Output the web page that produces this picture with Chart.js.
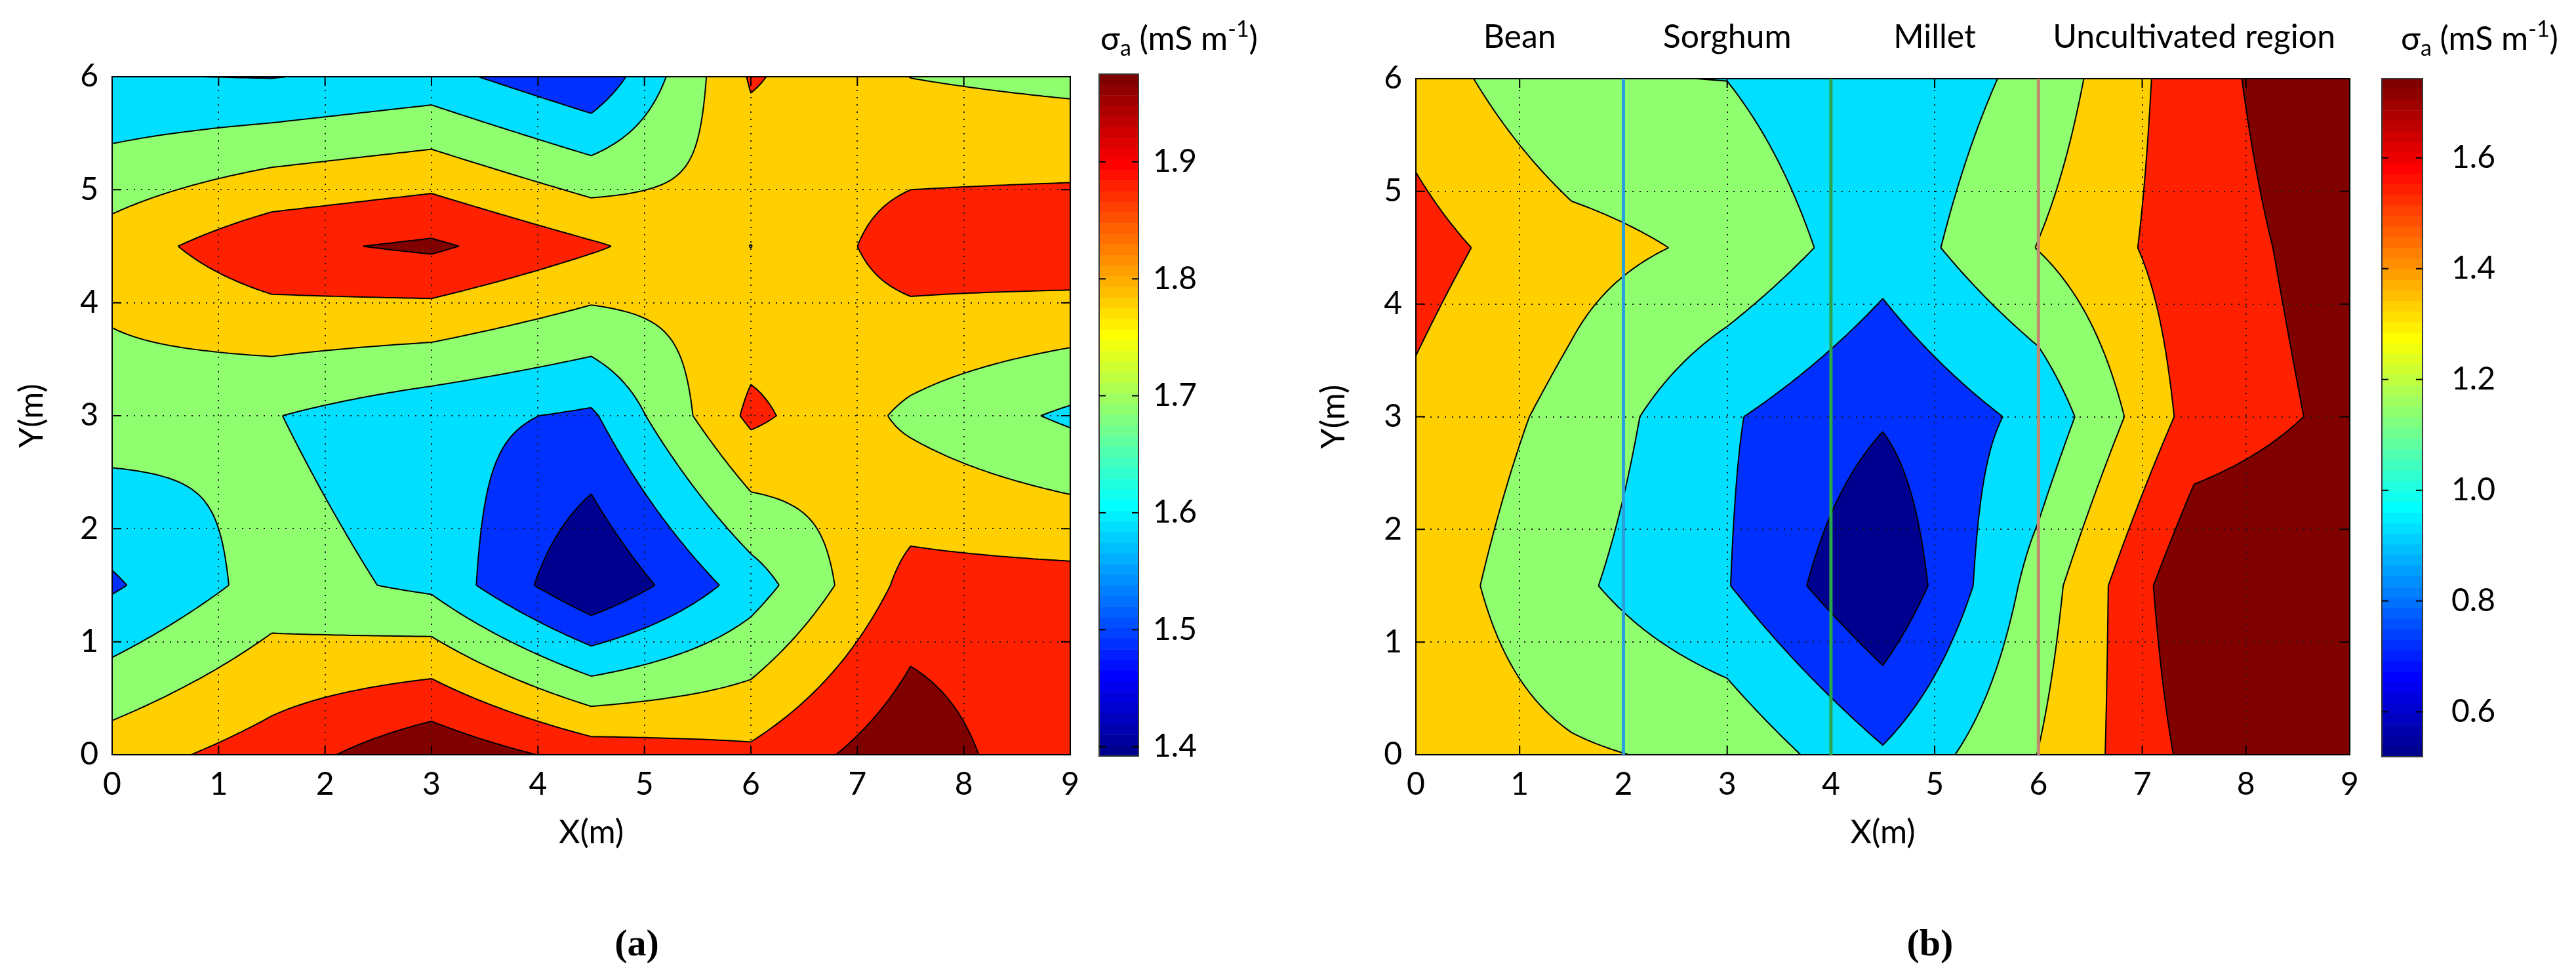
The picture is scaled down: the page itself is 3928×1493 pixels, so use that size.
<!DOCTYPE html>
<html>
<head>
<meta charset="utf-8">
<script src="https://cdn.jsdelivr.net/npm/chart.js"></script>
<style>
  body { margin: 0; background: #fff; }
  #fig { position: relative; width: 3928px; height: 1493px; background: #fff; overflow: hidden; }
  canvas { position: absolute; }
  .cap { position: absolute; width: 200px; text-align: center; font: bold 58px "Liberation Serif", serif; line-height: 70px; color: #000; }
</style>
</head>
<body>
<div id="fig">
  <canvas id="mapA" width="1660" height="1340" style="left:0px;top:0px"></canvas>
  <canvas id="barA" width="300" height="1300" style="left:1660px;top:0px"></canvas>
  <canvas id="mapB" width="1620" height="1340" style="left:1990px;top:0px"></canvas>
  <canvas id="barB" width="313" height="1300" style="left:3615px;top:0px"></canvas>
  <div class="cap" style="left:871px;top:1403px">(a)</div>
  <div class="cap" style="left:2843px;top:1403px">(b)</div>
</div>
<script>
// measurement grid (m)
const xNodes = [0, 1.5, 3, 4.5, 6, 7.5, 9];
const yNodes = [0, 1.5, 3, 4.5, 6];

// (a) apparent conductivity, mS/m, one row per y
const sigmaA_y0  = [1.770, 1.847, 1.958, 1.858, 1.825, 1.951, 1.813];
const sigmaA_y15 = [1.547, 1.677, 1.624, 1.392, 1.600, 1.838, 1.838];
const sigmaA_y30 = [1.684, 1.646, 1.586, 1.546, 1.827, 1.708, 1.627];
const sigmaA_y45 = [1.763, 1.872, 1.907, 1.820, 1.724, 1.850, 1.871];
const sigmaA_y60 = [1.563, 1.556, 1.589, 1.487, 1.817, 1.724, 1.703];

// (b)
const sigmaB_y0  = [1.323, 1.239, 1.182, 0.890, 1.222, 1.621, 1.726];
const sigmaB_y15 = [1.316, 1.079, 0.877, 0.519, 1.122, 1.726, 1.743];
const sigmaB_y30 = [1.358, 1.166, 0.888, 0.711, 0.916, 1.463, 1.612];
const sigmaB_y45 = [1.455, 1.281, 1.180, 0.937, 1.224, 1.489, 1.645];
const sigmaB_y60 = [1.316, 1.052, 1.042, 0.884, 1.101, 1.503, 1.715];

const levelsA = [1.475, 1.559, 1.642, 1.725, 1.808, 1.892];
const levelsB = [0.694, 0.869, 1.044, 1.218, 1.393, 1.568];
const bandColors = ['#00008f', '#0030ff', '#00dfff', '#8fff70', '#ffcf00', '#ff2000', '#800000'];

const colorRangeA = [1.392, 1.975];
const colorRangeB = [0.519, 1.743];
const cbTicksA = [1.4, 1.5, 1.6, 1.7, 1.8, 1.9];
const cbTicksB = [0.6, 0.8, 1.0, 1.2, 1.4, 1.6];
const xTicks = [0, 1, 2, 3, 4, 5, 6, 7, 8, 9];
const yTicks = [0, 1, 2, 3, 4, 5, 6];

const cropLabels = ['Bean', 'Sorghum', 'Millet', 'Uncultivated region'];
const cropLabelX = [1, 3, 5, 7.5];
const boundaryX = [2, 4, 6];
const boundaryColors = ['#2a9fd8', '#2aa64a', '#c08a6e'];

const FONT = 'Lato, "Liberation Sans", sans-serif';
Chart.defaults.font.family = FONT;
Chart.defaults.color = '#000';

const SUB = 30; // sub-steps per grid cell for the interpolated surface

function jetColor(i) {
  const k = i + 1;
  const r = k <= 24 ? 0 : k <= 40 ? (k - 24) / 16 : k <= 56 ? 1 : 1 - (k - 56) / 16;
  const g = k <= 8 ? 0 : k <= 24 ? (k - 8) / 16 : k <= 40 ? 1 : k <= 56 ? 1 - (k - 40) / 16 : 0;
  const b = k <= 8 ? 0.5 + k / 16 : k <= 24 ? 1 : k <= 40 ? 1 - (k - 24) / 16 : 0;
  return `rgb(${Math.round(r * 255)},${Math.round(g * 255)},${Math.round(b * 255)})`;
}

function fineField(z) {
  const cx = xNodes.length - 1, cy = yNodes.length - 1;
  const nx = cx * SUB + 1, ny = cy * SUB + 1;
  const fx = [], fy = [], ix = [], iy = [];
  for (let i = 0; i < nx; i++) {
    const c = Math.min(Math.floor(i / SUB), cx - 1), t = i / SUB - c;
    ix.push([c, t]); fx.push(xNodes[c] + t * (xNodes[c + 1] - xNodes[c]));
  }
  for (let j = 0; j < ny; j++) {
    const c = Math.min(Math.floor(j / SUB), cy - 1), t = j / SUB - c;
    iy.push([c, t]); fy.push(yNodes[c] + t * (yNodes[c + 1] - yNodes[c]));
  }
  const f = new Float64Array(nx * ny);
  for (let j = 0; j < ny; j++) {
    const [cj, ty] = iy[j];
    for (let i = 0; i < nx; i++) {
      const [ci, tx] = ix[i];
      f[j * nx + i] = z[cj][ci] * (1 - tx) * (1 - ty) + z[cj][ci + 1] * tx * (1 - ty)
        + z[cj + 1][ci] * (1 - tx) * ty + z[cj + 1][ci + 1] * tx * ty;
    }
  }
  return {fx, fy, f, nx, ny};
}

function edgePoint(idA, idB, vA, vB, pA, pB, L) {
  if (idA > idB) return edgePoint(idB, idA, vB, vA, pB, pA, L);
  const t = (L - vA) / (vB - vA);
  return [pA[0] + t * (pB[0] - pA[0]), pA[1] + t * (pB[1] - pA[1])];
}

function contourPlugin(z, levels) {
  let field = null;
  return {
    id: 'contourMap',
    beforeDatasetsDraw(chart) {
      const {ctx, chartArea: area, scales: {x, y}} = chart;
      if (!field) field = fineField(z);
      const {fx, fy, f, nx, ny} = field;
      const px = fx.map(v => x.getPixelForValue(v));
      const py = fy.map(v => y.getPixelForValue(v));
      ctx.save();
      ctx.beginPath();
      ctx.rect(area.left, area.top, area.width, area.height);
      ctx.clip();
      ctx.fillStyle = bandColors[0];
      ctx.fillRect(px[0], py[ny - 1], px[nx - 1] - px[0], py[0] - py[ny - 1]);
      const lines = new Path2D();
      levels.forEach((L, k) => {
        const path = new Path2D();
        for (let j = 0; j < ny - 1; j++) {
          for (let i = 0; i < nx - 1; i++) {
            const ids = [j * nx + i, j * nx + i + 1, (j + 1) * nx + i + 1, (j + 1) * nx + i];
            const vals = ids.map(id => f[id]);
            const nIn = vals.filter(v => v >= L).length;
            if (nIn === 0) continue;
            const pts = ids.map(id => [px[id % nx], py[Math.floor(id / nx)]]);
            const poly = [], cross = [];
            for (let e = 0; e < 4; e++) {
              const b = (e + 1) % 4;
              const ina = vals[e] >= L, inb = vals[b] >= L;
              if (ina) poly.push(pts[e]);
              if (ina !== inb) {
                const p = edgePoint(ids[e], ids[b], vals[e], vals[b], pts[e], pts[b], L);
                poly.push(p);
                cross.push({p, exit: ina});
              }
            }
            path.moveTo(poly[0][0], poly[0][1]);
            for (let q = 1; q < poly.length; q++) path.lineTo(poly[q][0], poly[q][1]);
            path.closePath();
            cross.forEach((c, ci) => {
              if (!c.exit) return;
              const nxt = cross[(ci + 1) % cross.length];
              lines.moveTo(c.p[0], c.p[1]);
              lines.lineTo(nxt.p[0], nxt.p[1]);
            });
          }
        }
        ctx.fillStyle = bandColors[k + 1];
        ctx.fill(path);
      });
      // dotted grid
      ctx.strokeStyle = '#1a1a1a';
      ctx.lineWidth = 2;
      ctx.setLineDash([2, 9]);
      ctx.beginPath();
      xTicks.slice(1, -1).forEach(v => {
        const p = Math.round(x.getPixelForValue(v));
        ctx.moveTo(p, area.bottom); ctx.lineTo(p, area.top);
      });
      yTicks.slice(1, -1).forEach(v => {
        const p = Math.round(y.getPixelForValue(v));
        ctx.moveTo(area.left, p); ctx.lineTo(area.right, p);
      });
      ctx.stroke();
      ctx.setLineDash([]);
      ctx.strokeStyle = '#000';
      ctx.lineWidth = 2;
      ctx.stroke(lines);
      ctx.restore();
      // axes box with inward ticks
      ctx.save();
      ctx.strokeStyle = '#000';
      ctx.lineWidth = 2;
      ctx.strokeRect(area.left, area.top, area.width, area.height);
      ctx.beginPath();
      xTicks.forEach(v => {
        const p = x.getPixelForValue(v);
        ctx.moveTo(p, area.bottom); ctx.lineTo(p, area.bottom - 14);
        ctx.moveTo(p, area.top); ctx.lineTo(p, area.top + 14);
      });
      yTicks.forEach(v => {
        const p = y.getPixelForValue(v);
        ctx.moveTo(area.left, p); ctx.lineTo(area.left + 14, p);
        ctx.moveTo(area.right, p); ctx.lineTo(area.right - 14, p);
      });
      ctx.stroke();
      ctx.restore();
    }
  };
}

const cropLabelPlugin = {
  id: 'cropLabels',
  afterDatasetsDraw(chart) {
    const {ctx, scales: {x}} = chart;
    ctx.save();
    ctx.font = `50px ${FONT}`;
    ctx.fillStyle = '#000';
    ctx.textAlign = 'center';
    ctx.textBaseline = 'alphabetic';
    cropLabels.forEach((t, i) => ctx.fillText(t, x.getPixelForValue(cropLabelX[i]), 73));
    ctx.restore();
  }
};

function makeMap(id, z, levels, geo, extraDatasets, extraPlugins) {
  return new Chart(document.getElementById(id), {
    type: 'scatter',
    data: {datasets: extraDatasets},
    options: {
      responsive: false,
      animation: false,
      events: [],
      layout: {autoPadding: false, padding: geo.padding},
      plugins: {legend: {display: false}, tooltip: {enabled: false}},
      scales: {
        x: {
          type: 'linear', min: 0, max: 9,
          afterBuildTicks: s => { s.ticks = xTicks.map(v => ({value: v})); },
          afterFit: s => { s.height = geo.xHeight; },
          grid: {display: false}, border: {display: false},
          ticks: {padding: 9, font: {size: 48}, color: '#000'},
          title: {display: true, text: 'X(m)', font: {size: 50}, color: '#000', padding: {top: 0, bottom: 40}}
        },
        y: {
          type: 'linear', min: 0, max: 6,
          afterBuildTicks: s => { s.ticks = yTicks.map(v => ({value: v})); },
          afterFit: s => { s.width = geo.yWidth; },
          grid: {display: false}, border: {display: false},
          ticks: {padding: 13, font: {size: 48}, color: '#000'},
          title: {display: true, text: 'Y(m)', font: {size: 50}, color: '#000', padding: {top: geo.yTitlePad, bottom: 0}}
        }
      }
    },
    plugins: [contourPlugin(z, levels)].concat(extraPlugins)
  });
}

function colorbarPlugin(ticks, title) {
  return {
    id: 'colorbarFrame',
    afterDatasetsDraw(chart) {
      const {ctx, chartArea: a, scales: {y}} = chart;
      ctx.save();
      ctx.strokeStyle = '#3a3a3a';
      ctx.lineWidth = 2;
      ctx.strokeRect(a.left, a.top, a.width, a.height);
      ctx.strokeStyle = '#000';
      ctx.beginPath();
      ticks.forEach(v => {
        const p = y.getPixelForValue(v);
        ctx.moveTo(a.left, p); ctx.lineTo(a.left + 10, p);
        ctx.moveTo(a.right, p); ctx.lineTo(a.right - 10, p);
      });
      ctx.stroke();
      ctx.fillStyle = '#000';
      ctx.textAlign = 'left';
      ctx.textBaseline = 'alphabetic';
      let tx = title.x;
      [['σ', 50, 0], ['a', 34, 9], [' (mS m', 50, 0], ['-1', 34, -20], [')', 50, 0]].forEach(([t, size, dy]) => {
        ctx.font = `${size}px ${FONT}`;
        ctx.fillText(t, tx, title.y + dy);
        tx += ctx.measureText(t).width;
      });
      ctx.restore();
    }
  };
}

function makeColorbar(id, range, ticks, geo) {
  const n = 64, step = (range[1] - range[0]) / n;
  const datasets = [];
  for (let i = 0; i < n; i++) {
    datasets.push({
      data: [[range[0] + i * step, range[0] + (i + 1) * step]],
      backgroundColor: jetColor(i), borderWidth: 0,
      barPercentage: 1, categoryPercentage: 1, grouped: false
    });
  }
  return new Chart(document.getElementById(id), {
    type: 'bar',
    data: {labels: ['cb'], datasets},
    options: {
      responsive: false,
      animation: false,
      events: [],
      layout: {autoPadding: false, padding: geo.padding},
      plugins: {legend: {display: false}, tooltip: {enabled: false}},
      scales: {
        x: {display: false},
        y: {
          position: 'right', min: range[0], max: range[1],
          afterBuildTicks: s => { s.ticks = ticks.map(v => ({value: v})); },
          afterFit: s => { s.width = geo.yWidth; },
          grid: {display: false}, border: {display: false},
          ticks: {padding: geo.labelPad, font: {size: 48}, color: '#000', callback: v => Number(v).toFixed(1)}
        }
      }
    },
    plugins: [colorbarPlugin(ticks, geo.title)]
  });
}

const gridA = [sigmaA_y0, sigmaA_y15, sigmaA_y30, sigmaA_y45, sigmaA_y60];
const gridB = [sigmaB_y0, sigmaB_y15, sigmaB_y30, sigmaB_y45, sigmaB_y60];

makeMap('mapA', gridA, levelsA,
  {padding: {left: 0, top: 117, right: 28, bottom: 0}, xHeight: 189, yWidth: 171, yTitlePad: 19},
  [], []);

const boundaryLines = boundaryX.map((bx, i) => ({
  type: 'line',
  data: [{x: bx, y: 0}, {x: bx, y: 6}],
  borderColor: boundaryColors[i], borderWidth: 5,
  pointRadius: 0, showLine: true, clip: 4
}));
makeMap('mapB', gridB, levelsB,
  {padding: {left: 0, top: 120, right: 27, bottom: 0}, xHeight: 189, yWidth: 169, yTitlePad: 14},
  boundaryLines, [cropLabelPlugin]);

makeColorbar('barA', colorRangeA, cbTicksA,
  {padding: {left: 16, top: 113, right: 0, bottom: 147}, yWidth: 224, labelPad: 14, title: {x: 18, y: 76}});
makeColorbar('barB', colorRangeB, cbTicksB,
  {padding: {left: 17, top: 120, right: 0, bottom: 146}, yWidth: 234, labelPad: 36, title: {x: 46, y: 76}});
</script>
</body>
</html>
